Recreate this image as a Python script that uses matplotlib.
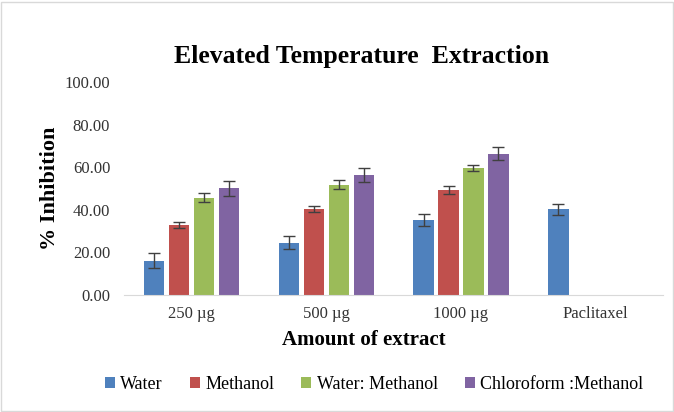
import numpy as np
import matplotlib.pyplot as plt

plt.rcParams["font.family"] = ["Liberation Serif", "DejaVu Serif"]

categories = ["250 µg", "500 µg", "1000 µg", "Paclitaxel"]
series_names = ["Water", "Methanol", "Water: Methanol", "Chloroform :Methanol"]
colors = ["#4f81bd", "#c0504d", "#9bbb59", "#8064a2"]

water = [16.0, 24.5, 35.2, 40.2]
methanol = [33.0, 40.5, 49.2, np.nan]
water_methanol = [45.7, 51.8, 59.6, np.nan]
chloro_methanol = [50.0, 56.5, 66.3, np.nan]

water_err = [3.5, 3.0, 3.0, 2.5]
methanol_err = [1.5, 1.5, 2.0, np.nan]
water_methanol_err = [2.0, 2.0, 1.5, np.nan]
chloro_methanol_err = [3.5, 3.3, 3.0, np.nan]

values = [water, methanol, water_methanol, chloro_methanol]
errors = [water_err, methanol_err, water_methanol_err, chloro_methanol_err]

fig = plt.figure(figsize=(6.74, 4.12), dpi=100)
fig.patches.append(plt.Rectangle((0.002, 0.002), 0.996, 0.994, transform=fig.transFigure,
                                 fill=False, edgecolor="#d9d9d9", linewidth=1))
ax = fig.add_axes([0.184, 0.284, 0.800, 0.517])

x = np.arange(len(categories))
width = 0.15
step = 0.185
for i, (vals, errs) in enumerate(zip(values, errors)):
    pos = x + (i - 1.5) * step
    ax.bar(pos, vals, width, color=colors[i], label=series_names[i],
           yerr=errs, error_kw=dict(ecolor="#404040", elinewidth=1, capsize=4, capthick=1))

ax.set_xlim(-0.5, len(categories) - 0.5)
ax.set_ylim(0, 100)
ax.set_yticks(np.arange(0, 101, 20))
ax.set_yticklabels([f"{v:.2f}" for v in np.arange(0, 101, 20)], fontsize=12, color="#333333")
ax.set_xticks(x)
ax.set_xticklabels(categories, fontsize=12, color="#333333")
ax.tick_params(axis="y", length=0, pad=10)
ax.tick_params(axis="x", length=0, pad=8)
for side in ["top", "right", "left"]:
    ax.spines[side].set_visible(False)
ax.spines["bottom"].set_color("#d9d9d9")

ax.set_ylabel("% Inhibition", fontsize=16, fontweight="bold", labelpad=3)
ax.set_xlabel("Amount of extract", fontsize=15, fontweight="bold")
ax.xaxis.set_label_coords(0.445, -0.165)
fig.text(0.536, 0.862, "Elevated Temperature  Extraction", fontsize=18.5,
         fontweight="bold", ha="center", va="center")

fig.legend(loc="center", bbox_to_anchor=(0.555, 0.066), ncol=4, frameon=False,
           fontsize=13, handlelength=0.55, handleheight=0.55, handletextpad=0.3,
           columnspacing=1.5)

fig.savefig("out.png", dpi=100)
